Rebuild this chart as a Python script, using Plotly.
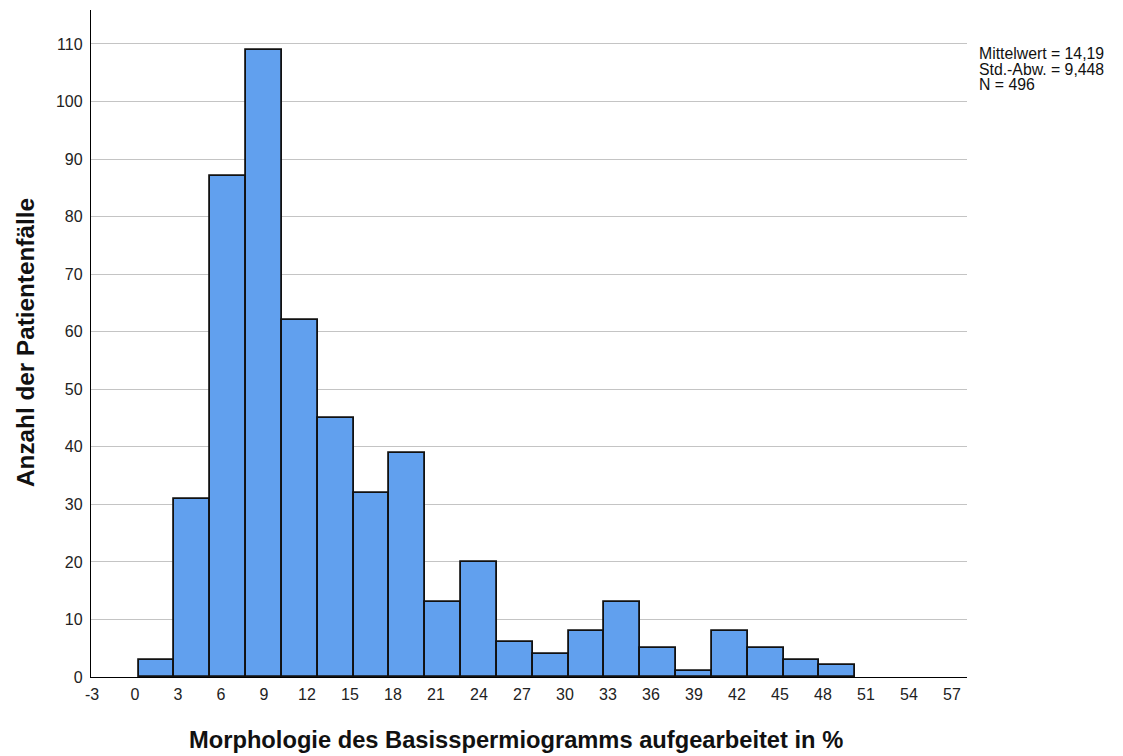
import plotly.graph_objects as go

# Histogram data (bin width 2.5, first bin starts at 0.25)
bin_start = 0.25
bin_width = 2.5
counts = [3, 31, 87, 109, 62, 45, 32, 39, 13, 20, 6, 4, 8, 13, 5, 1, 8, 5, 3, 2]
x_ticks = list(range(-3, 58, 3))
y_ticks = list(range(0, 111, 10))
stats_lines = ["Mittelwert = 14,19", "Std.-Abw. = 9,448", "N = 496"]
x_title = "Morphologie des Basisspermiogramms aufgearbeitet in %"
y_title = "Anzahl der Patientenfälle"

centers = [bin_start + bin_width * (i + 0.5) for i in range(len(counts))]

FONT = "Liberation Sans, Arial, sans-serif"

# page pixel -> paper helpers (plot area on page: x 91..967, y 10..677)
def px(x):
    return (x - 91) / 876.0

def py(y):
    return (677 - y) / 667.0

fig = go.Figure()
fig.add_trace(go.Bar(
    x=centers, y=counts, width=[bin_width] * len(counts),
    marker=dict(color="#61a0ee", line=dict(color="#111111", width=1.8)),
    hoverinfo="x+y",
))

fig.update_layout(
    width=1115, height=748,
    margin=dict(l=83, r=156, t=2, b=79),
    paper_bgcolor="white", plot_bgcolor="white",
    font=dict(family=FONT, color="#000000", size=16),
    bargap=0, showlegend=False,
    xaxis=dict(
        range=[-3.07, 58.05], tickmode="array", tickvals=x_ticks,
        ticktext=[str(v) for v in x_ticks],
        showgrid=False, zeroline=False, showline=True, linecolor="#000000", linewidth=1.4,
        ticks="", tickfont=dict(size=16, family=FONT, color="#222222"),
        ticklabelstandoff=3,
    ),
    yaxis=dict(
        range=[0, 115.9], tickmode="array", tickvals=y_ticks,
        showgrid=True, gridcolor="#c4c4c4", gridwidth=1,
        zeroline=False, showline=True, linecolor="#000000", linewidth=1.4,
        ticks="", tickfont=dict(size=16, family=FONT, color="#222222"),
        ticklabelstandoff=4,
    ),
)

# axis titles
fig.add_annotation(
    xref="paper", yref="paper", x=px(516), y=py(740), xanchor="center", yanchor="middle",
    text="<b>" + x_title + "</b>", showarrow=False,
    font=dict(size=23.7, family=FONT, color="#111111"),
)
fig.add_annotation(
    xref="paper", yref="paper", x=px(25), y=py(343), xanchor="center", yanchor="middle",
    text="<b>" + y_title + "</b>", showarrow=False, textangle=-90,
    font=dict(size=24.3, family=FONT, color="#111111"),
)

# statistics box
for i, line in enumerate(stats_lines):
    fig.add_annotation(
        xref="paper", yref="paper", x=px(977), y=py(53.5 + 15.6 * i),
        xanchor="left", yanchor="middle",
        text=line, showarrow=False, align="left",
        font=dict(size=15.8, family=FONT, color="#111111"),
    )

fig.write_html("out.html")
